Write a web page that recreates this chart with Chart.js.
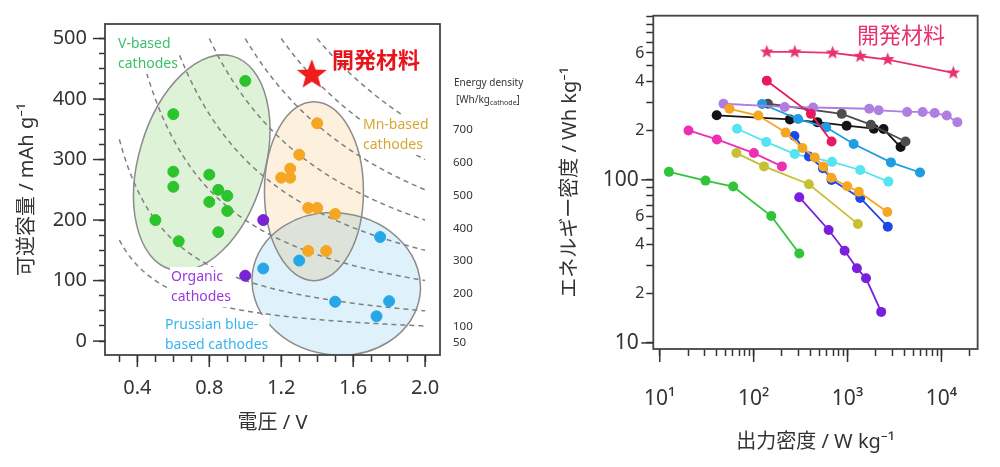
<!DOCTYPE html>
<html><head><meta charset="utf-8">
<script src="https://cdn.jsdelivr.net/npm/chart.js@4.4.1/dist/chart.umd.min.js"></script>
<style>
html,body{margin:0;padding:0;background:#fff;width:1000px;height:467px;overflow:hidden}
#wrapL{position:absolute;left:0;top:0;width:540px;height:467px}
#wrapR{position:absolute;left:500px;top:0;width:500px;height:467px}
</style></head><body>
<div id="wrapL"><canvas id="cL" width="540" height="467"></canvas></div>
<div id="wrapR"><canvas id="cR" width="500" height="467"></canvas></div>
<script>
// ---------- Left panel data: voltage (V) vs reversible capacity (mAh/g) ----------
const vBasedVoltage   = [1.0, 0.6, 0.6, 0.6, 0.8, 0.85, 0.9, 0.8, 0.9, 0.5, 0.85, 0.63];
const vBasedCapacity  = [430, 375, 280, 255, 275, 250, 240, 230, 215, 200, 180, 165];
const organicVoltage  = [1.1, 1.0];
const organicCapacity = [200, 108];
const mnBasedVoltage  = [1.4, 1.3, 1.25, 1.2, 1.25, 1.35, 1.4, 1.5, 1.35, 1.45];
const mnBasedCapacity = [360, 308, 285, 270, 270, 220, 220, 210, 149, 149];
const prussianVoltage  = [1.75, 1.3, 1.1, 1.5, 1.8, 1.73];
const prussianCapacity = [172, 133, 120, 65, 66, 41];
const newMatVoltage  = [1.37];
const newMatCapacity = [440];
const energyLevels = [700, 600, 500, 400, 300, 200, 100, 50];
const energyLabels = ['700', '600', '500', '400', '300', '200', '100', '50'];
const voltageTicks  = [0.3,0.4,0.5,0.6,0.7,0.8,0.9,1.0,1.1,1.2,1.3,1.4,1.5,1.6,1.7,1.8,1.9,2.0];
const voltageLabels = ['','0.4','','','','0.8','','','','1.2','','','','1.6','','','','2.0'];
const voltageMajor  = [0.4, 0.8, 1.2, 1.6, 2.0];
const capacityTicks  = [0,25,50,75,100,125,150,175,200,225,250,275,300,325,350,375,400,425,450,475,500];
const capacityLabels = ['0','','','','100','','','','200','','','','300','','','','400','','','','500'];
const capacityMajor  = [0, 100, 200, 300, 400, 500];

// ---------- Right panel data: power density (W/kg) vs energy density (Wh/kg) ----------
const newMatPower   = [138, 274, 693, 1365, 2680, 13400];
const newMatEnergy  = [609, 609, 601, 573, 547, 453];
const crimsonPower  = [138, 407, 676];
const crimsonEnergy = [406, 254, 172];
const lavenderPower  = [47.7, 214, 430, 1702, 2143, 4310, 6310, 8470, 11380, 14790];
const lavenderEnergy = [293, 280, 278, 273, 267, 261, 261, 257, 248, 226];
const skyPower  = [123, 297, 592, 1161, 2897, 5915];
const skyEnergy = [292, 236, 210, 166, 128, 111];
const grayPower  = [142, 867, 1771, 4140];
const grayEnergy = [293, 254, 218, 172];
const blackPower  = [40.4, 243, 477, 977, 1905, 2417, 3673];
const blackEnergy = [249, 235, 226, 215, 206, 205, 159];
const orangePower  = [55.3, 112, 219, 331, 448, 551, 671, 991, 1318, 2655];
const orangeEnergy = [273, 248, 195, 157, 137, 121, 103, 91.5, 84.6, 63.6];
const bluePower  = [272, 388, 546, 676, 1365, 2680];
const blueEnergy = [186, 139, 118, 100, 77.5, 51.6];
const cyanPower  = [66.5, 136, 274, 683, 1365, 2723];
const cyanEnergy = [206, 171, 144, 129, 115, 97.6];
const magentaPower  = [20.2, 40.6, 100.5, 200];
const magentaEnergy = [201, 177, 146, 121];
const olivePower  = [65.5, 129, 388, 1288];
const oliveEnergy = [146, 121, 94, 53.7];
const greenPower  = [12.5, 30.7, 60.5, 154, 306];
const greenEnergy = [112, 99, 91, 60, 35.4];
const violetPower  = [306, 629, 931, 1257, 1573, 2282];
const violetEnergy = [78.3, 49.3, 36.8, 28.7, 24.9, 15.5];
const powerTicks  = [10,20,30,40,50,60,70,80,90,100,200,300,400,500,600,700,800,900,1000,2000,3000,4000,5000,6000,7000,8000,9000,10000,20000];
const powerLabels = ['10¹','','','','','','','','','10²','','','','','','','','','10³','','','','','','','','','10⁴',''];
const powerMajor  = [10, 100, 1000, 10000];
const energyTicks  = [10,20,30,40,50,60,70,80,90,100,200,300,400,500,600,700,800,900,1000];
const energyTickLabels = ['10 ','2','','4','','6','','','','100 ','2','','4','','6','','','',''];
const energyMajor = [10, 100];

// ---------- helpers ----------
const FONT = "'Noto Sans','Noto Sans CJK JP',sans-serif";
Chart.defaults.font.family = FONT;
Chart.defaults.color = '#333';

function zip(xs, ys){ return xs.map((x,i)=>({x:x, y:ys[i]})); }
function starCanvas(r, color){
  const s = Math.ceil(2*r + 4), c = document.createElement('canvas');
  c.width = s; c.height = s;
  const g = c.getContext('2d');
  g.translate(s/2, s/2);
  g.beginPath();
  for (let i = 0; i < 10; i++) {
    const rad = i % 2 === 0 ? r : r*0.42;
    const a = -Math.PI/2 + i*Math.PI/5;
    const px = rad*Math.cos(a), py = rad*Math.sin(a);
    if (i === 0) g.moveTo(px, py); else g.lineTo(px, py);
  }
  g.closePath(); g.fillStyle = color; g.fill();
  return c;
}
function setTicks(values){ return (scale) => { scale.ticks = values.map(v => ({value: v})); }; }
function drawTextBox(ctx, lines, x, y, color, size, lh){
  ctx.font = size + 'px ' + FONT;
  let w = 0; lines.forEach(t => { w = Math.max(w, ctx.measureText(t).width); });
  ctx.fillStyle = '#fff';
  ctx.fillRect(x - 1, y - lh/2, w + 2, lh*lines.length);
  ctx.fillStyle = color; ctx.textBaseline = 'middle'; ctx.textAlign = 'left';
  lines.forEach((t,i) => ctx.fillText(t, x, y + i*lh));
}
function extendMajor(ctx, scale, majors, horizontal, from, to){
  ctx.save(); ctx.strokeStyle = '#333'; ctx.lineWidth = 1.5;
  majors.forEach(v => {
    const p = scale.getPixelForValue(v);
    ctx.beginPath();
    if (horizontal) { ctx.moveTo(p, from); ctx.lineTo(p, to); }
    else { ctx.moveTo(from, p); ctx.lineTo(to, p); }
    ctx.stroke();
  });
  ctx.restore();
}

// ---------- Left chart ----------
const ellipses = [
  {cx:0.758, cy:294.6, rx:63, ry:111, rot:16.5, fill:'#def2d8'},
  {cx:1.382, cy:247.7, rx:49.5, ry:89.5, rot:0, fill:'#fdf0dc'},
  {cx:1.506, cy:94.4, rx:84.5, ry:71, rot:8, fill:'#dff2fb'}
];
const leftDecor = {
  id: 'leftDecor',
  beforeDatasetsDraw(chart){
    const {ctx, chartArea: a, scales: {x, y}} = chart;
    ctx.save();
    ctx.beginPath(); ctx.rect(a.left, a.top, a.right - a.left, a.bottom - a.top); ctx.clip();
    ctx.globalCompositeOperation = 'multiply';
    ellipses.forEach(e => {
      ctx.beginPath();
      ctx.ellipse(x.getPixelForValue(e.cx), y.getPixelForValue(e.cy), e.rx, e.ry, e.rot*Math.PI/180, 0, 2*Math.PI);
      ctx.fillStyle = e.fill; ctx.fill();
    });
    ctx.globalCompositeOperation = 'source-over';
    ellipses.forEach(e => {
      ctx.beginPath();
      ctx.ellipse(x.getPixelForValue(e.cx), y.getPixelForValue(e.cy), e.rx, e.ry, e.rot*Math.PI/180, 0, 2*Math.PI);
      ctx.strokeStyle = '#8c8c8c'; ctx.lineWidth = 1.5; ctx.stroke();
    });
    // iso-energy curves: capacity = energy / voltage
    ctx.setLineDash([5, 4]); ctx.strokeStyle = '#808080'; ctx.lineWidth = 1.5;
    energyLevels.forEach(E => {
      const v0 = Math.max(0.3, E/500);
      ctx.beginPath();
      for (let v = v0, k = 0; v <= 2.0001; v += 0.01, k++) {
        const px = x.getPixelForValue(v), py = y.getPixelForValue(E/v);
        if (k === 0) ctx.moveTo(px, py); else ctx.lineTo(px, py);
      }
      ctx.stroke();
    });
    ctx.setLineDash([]);
    ctx.restore();
    ctx.save();
    drawTextBox(ctx, ['V-based', 'cathodes'], 118, 44, '#3dbf6b', 14, 20);
    drawTextBox(ctx, ['Mn-based', 'cathodes'], 363, 125, '#d6a735', 14, 20);
    drawTextBox(ctx, ['Organic', 'cathodes'], 171, 277, '#9b38e0', 14, 20);
    drawTextBox(ctx, ['Prussian blue-', 'based cathodes'], 165, 325, '#38b4ee', 14, 20);
    ctx.restore();
  },
  afterDatasetsDraw(chart){
    const {ctx, chartArea: a} = chart;
    ctx.save();
    ctx.font = 'bold 22px ' + FONT; ctx.fillStyle = '#e8141c';
    ctx.textBaseline = 'middle'; ctx.textAlign = 'left';
    ctx.fillText('開発材料', 332, 62);
    ctx.strokeStyle = '#444'; ctx.lineWidth = 1.8;
    ctx.strokeRect(a.left, a.top, a.right - a.left, a.bottom - a.top);
    ctx.fillStyle = '#333'; ctx.font = '10px ' + FONT;
    ctx.fillText('Energy density', 454, 83);
    ctx.fillText('[Wh/kg', 456, 100);
    let w = ctx.measureText('[Wh/kg').width;
    ctx.font = '7px ' + FONT;
    ctx.fillText('cathode', 456 + w, 103);
    const w2 = ctx.measureText('cathode').width;
    ctx.font = '10px ' + FONT;
    ctx.fillText(']', 456 + w + w2, 100);
    ctx.restore();
    extendMajor(ctx, chart.scales.x, voltageMajor, true, a.bottom, a.bottom + 12);
    extendMajor(ctx, chart.scales.y, capacityMajor, false, a.left - 12, a.left);
  }
};

new Chart(document.getElementById('cL'), {
  type: 'scatter',
  data: { datasets: [
    {data: zip(newMatVoltage, newMatCapacity), pointStyle: starCanvas(15.8, '#ee1c1c'), pointRadius: 16},
    {data: zip(vBasedVoltage, vBasedCapacity), backgroundColor: '#2cc42c', borderColor: '#2cc42c', pointRadius: 5.5},
    {data: zip(organicVoltage, organicCapacity), backgroundColor: '#7a22d6', borderColor: '#7a22d6', pointRadius: 5.5},
    {data: zip(mnBasedVoltage, mnBasedCapacity), backgroundColor: '#f5a623', borderColor: '#f5a623', pointRadius: 5.5},
    {data: zip(prussianVoltage, prussianCapacity), backgroundColor: '#27a7e8', borderColor: '#27a7e8', pointRadius: 5.5}
  ]},
  options: {
    responsive: false, animation: false, events: [],
    layout: {padding: {top: 19, right: 0, bottom: 0, left: 0}},
    plugins: {legend: {display: false}, tooltip: {enabled: false}},
    scales: {
      x: {
        type: 'linear', min: 0.22, max: 2.083,
        afterFit: s => { s.height = 112; },
        afterBuildTicks: setTicks(voltageTicks),
        grid: {drawOnChartArea: false, drawTicks: true, tickLength: 7, tickColor: '#333', tickWidth: 1.5},
        border: {display: false},
        ticks: {autoSkip: false, maxRotation: 0, padding: 14, font: {size: 20}, color: '#333',
                callback: (v, i) => voltageLabels[i]},
        title: {display: true, text: '電圧 / V', font: {size: 20}, color: '#333', padding: {top: 0, bottom: 32}}
      },
      y: {
        type: 'linear', min: -23, max: 524,
        afterFit: s => { s.width = 105; },
        afterBuildTicks: setTicks(capacityTicks),
        grid: {drawOnChartArea: false, drawTicks: true, tickLength: 6, tickColor: '#333', tickWidth: 1.5},
        border: {display: false},
        ticks: {autoSkip: false, padding: 12, font: {size: 20}, color: '#333',
                callback: (v, i) => capacityLabels[i]},
        title: {display: true, text: '可逆容量 / mAh g⁻¹', font: {size: 20}, color: '#333', padding: {top: 15, bottom: 0}}
      },
      e: {
        type: 'linear', position: 'right', min: 14, max: 1022,
        afterFit: s => { s.width = 100; },
        afterBuildTicks: setTicks(energyLevels),
        grid: {display: false, drawTicks: false},
        border: {display: false},
        ticks: {autoSkip: false, padding: 13, font: {size: 11.5}, color: '#333',
                callback: (v, i) => energyLabels[i]}
      }
    }
  },
  plugins: [leftDecor]
});

// ---------- Right chart ----------
const rightSeries = [
  {p: newMatPower,   e: newMatEnergy,   color: '#e6336e', star: true},
  {p: crimsonPower,  e: crimsonEnergy,  color: '#e8195c'},
  {p: orangePower,   e: orangeEnergy,   color: '#f5a623'},
  {p: bluePower,     e: blueEnergy,     color: '#1b48e6'},
  {p: lavenderPower, e: lavenderEnergy, color: '#b07ee0'},
  {p: skyPower,      e: skyEnergy,      color: '#1e9de0'},
  {p: grayPower,     e: grayEnergy,     color: '#4d4d4d'},
  {p: blackPower,    e: blackEnergy,    color: '#141414'},
  {p: cyanPower,     e: cyanEnergy,     color: '#55e4f2'},
  {p: magentaPower,  e: magentaEnergy,  color: '#ee2fb4'},
  {p: olivePower,    e: oliveEnergy,    color: '#c8c034'},
  {p: greenPower,    e: greenEnergy,    color: '#30c43a'},
  {p: violetPower,   e: violetEnergy,   color: '#7a1fdd'}
];
const rightDecor = {
  id: 'rightDecor',
  afterDatasetsDraw(chart){
    const {ctx, chartArea: a} = chart;
    ctx.save();
    ctx.strokeStyle = '#444'; ctx.lineWidth = 1.8;
    ctx.strokeRect(a.left, a.top, a.right - a.left, a.bottom - a.top);
    ctx.font = '22px ' + FONT; ctx.fillStyle = '#e6336e';
    ctx.textBaseline = 'middle'; ctx.textAlign = 'left';
    ctx.fillText('開発材料', 357, 37);
    ctx.restore();
    extendMajor(ctx, chart.scales.x, powerMajor, true, a.bottom, a.bottom + 13);
    extendMajor(ctx, chart.scales.y, energyMajor, false, a.left - 12, a.left);
  }
};
new Chart(document.getElementById('cR'), {
  type: 'scatter',
  data: { datasets: rightSeries.map(s => ({
    data: zip(s.p, s.e), showLine: true,
    borderColor: s.color, backgroundColor: s.color, borderWidth: 1.8,
    pointStyle: s.star ? starCanvas(7.2, s.color) : 'circle',
    pointRadius: 5, pointBorderWidth: 0
  }))},
  options: {
    responsive: false, animation: false, events: [],
    layout: {padding: {top: 15.7, right: 12.7, bottom: 0, left: 0}},
    plugins: {legend: {display: false}, tooltip: {enabled: false}},
    scales: {
      x: {
        type: 'logarithmic', min: 8.53, max: 24300,
        afterFit: s => { s.height = 118; },
        afterBuildTicks: setTicks(powerTicks),
        grid: {drawOnChartArea: false, drawTicks: true, tickLength: 7, tickColor: '#333', tickWidth: 1.5},
        border: {display: false},
        ticks: {autoSkip: false, maxRotation: 0, padding: 30, font: {size: 21}, color: '#333',
                callback: (v, i) => powerLabels[i]},
        title: {display: true, text: '出力密度 / W kg⁻¹', font: {size: 20}, color: '#333', padding: {top: 0, bottom: 13}}
      },
      y: {
        type: 'logarithmic', min: 9.18, max: 1016,
        afterFit: s => { s.width = 153.3; },
        afterBuildTicks: setTicks(energyTicks),
        grid: {drawOnChartArea: false, drawTicks: true, tickLength: 7, tickColor: '#333', tickWidth: 1.5},
        border: {display: false},
        ticks: {autoSkip: false, padding: 2, color: '#333',
                font: c => ({size: (c.tick && energyMajor.includes(c.tick.value)) ? 21 : 16}),
                callback: (v, i) => energyTickLabels[i]},
        title: {display: true, text: 'エネルギー密度 / Wh kg⁻¹', font: {size: 20}, color: '#333', padding: {top: 58, bottom: 0}}
      }
    }
  },
  plugins: [rightDecor]
});
</script>
</body></html>
